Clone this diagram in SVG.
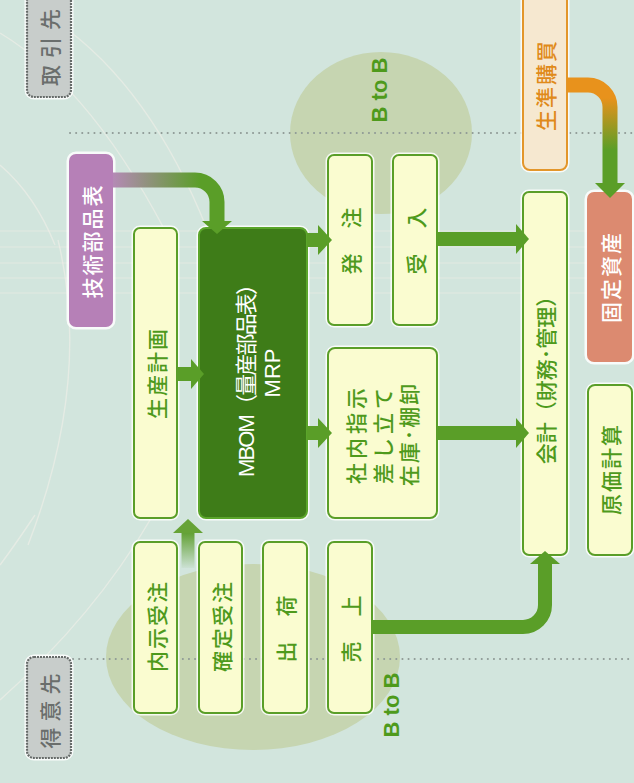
<svg xmlns="http://www.w3.org/2000/svg" width="634" height="783" viewBox="0 0 634 783">
<defs>
<style>
.bg{fill:#d2e5dd}
.deco{fill:none;stroke:#f4f1ea;stroke-width:1.4;opacity:.55}
.hline{fill:none;stroke:#f3ece6;stroke-width:1.2;opacity:.45}
.dot{fill:none;stroke:#8f9a96;stroke-width:2;stroke-dasharray:0.1 6;stroke-linecap:round}
.ell{fill:#c6d5b1}
.halo{fill:none;stroke:#ffffff;stroke-width:5;opacity:.85}
.box{fill:#fafcd0;stroke:#5a9e28;stroke-width:2}
.dark{fill:#3e7c18;stroke:#5ba52b;stroke-width:2}
.gray{fill:#c8cdcb;stroke:#666b69;stroke-width:2.2;stroke-dasharray:2 1}
.purple{fill:#b680b7;stroke:none}
.orange{fill:#f6e8d0;stroke:#e3962a;stroke-width:2}
.salmon{fill:#dc8a70;stroke:none}
.t{font-family:"Noto Sans CJK JP","Liberation Sans",sans-serif;font-size:21px;font-weight:500;text-anchor:middle;dominant-baseline:central;letter-spacing:2px}
.g{fill:#4e9a1c}
.w{fill:#ffffff}
.gr{fill:#6a6e6c;font-weight:500}
.or{fill:#e08a1a}
.lat{font-family:"Liberation Sans","Noto Sans CJK JP",sans-serif;letter-spacing:0;font-size:22px}
.btob{font-weight:700}
.sh{fill:none;stroke:#5a9e28;stroke-width:14}
.ah{fill:#5a9e28}
</style>
<linearGradient id="gPur" gradientUnits="userSpaceOnUse" x1="113" y1="0" x2="200" y2="0">
<stop offset="0" stop-color="#b48ab5"/><stop offset="1" stop-color="#5a9e28"/>
</linearGradient>
<linearGradient id="gOr" gradientUnits="userSpaceOnUse" x1="0" y1="98" x2="0" y2="150">
<stop offset="0" stop-color="#e8921c"/><stop offset="1" stop-color="#5a9e28"/>
</linearGradient>
<linearGradient id="gUp" gradientUnits="userSpaceOnUse" x1="0" y1="532" x2="0" y2="570">
<stop offset="0" stop-color="#5f9f30"/><stop offset="1" stop-color="#5f9f30" stop-opacity="0"/>
</linearGradient>
</defs>

<rect class="bg" x="0" y="0" width="634" height="783"/>
<g id="decoration">
<path class="deco" d="M0,33 Q95,90 175,250"/>
<path class="deco" d="M68,30 Q160,100 215,250"/>
<path class="deco" d="M0,165 Q35,195 55,245"/>
<path class="deco" d="M58,240 Q92,380 28,545"/>
<path class="deco" d="M150,520 Q95,615 0,700"/>
<path class="deco" d="M35,515 Q15,545 0,565"/>
<line class="hline" x1="0" y1="231" x2="634" y2="231"/>
<line class="hline" x1="0" y1="247" x2="634" y2="247"/>
<line class="hline" x1="0" y1="263" x2="634" y2="263"/>
<line class="hline" x1="0" y1="278" x2="634" y2="278"/>
<line class="hline" x1="0" y1="293" x2="634" y2="293"/>
<ellipse class="ell" cx="381" cy="133" rx="91" ry="81"/>
<ellipse class="ell" cx="253" cy="657" rx="147" ry="93"/>
<line class="dot" x1="70" y1="133" x2="634" y2="133"/>
<line class="dot" x1="73" y1="659" x2="634" y2="659"/>
<text class="t g lat btob" transform="translate(379,90) rotate(-90)">B to B</text>
<text class="t g lat btob" transform="translate(391,705) rotate(-90)">B to B</text>
</g>

<g id="torihiki">
<rect class="halo" x="27" y="-8" width="44" height="105" rx="7"/>
<rect class="gray" x="27" y="-8" width="44" height="105" rx="7"/>
<text class="t gr" transform="translate(49,44) rotate(-90)" style="letter-spacing:7px">取引先</text>
</g>
<g id="tokui">
<rect class="halo" x="27" y="657" width="44" height="101" rx="7"/>
<rect class="gray" x="27" y="657" width="44" height="101" rx="7"/>
<text class="t gr" transform="translate(49,708) rotate(-90)" style="letter-spacing:6px">得意先</text>
</g>
<g id="gijutsu">
<rect class="halo" x="69" y="154" width="44" height="173" rx="7"/>
<rect class="purple" x="69" y="154" width="44" height="173" rx="7"/>
<text class="t w" transform="translate(91,241) rotate(-90)">技術部品表</text>
</g>
<g id="seisan">
<rect class="halo" x="134" y="228" width="43" height="290" rx="6"/>
<rect class="box" x="134" y="228" width="43" height="290" rx="6"/>
<text class="t g" transform="translate(156,373) rotate(-90)">生産計画</text>
</g>
<g id="mbom">
<rect class="halo" x="199" y="228" width="108" height="290" rx="7"/>
<rect class="dark" x="199" y="228" width="108" height="290" rx="7"/>
<text class="t w lat" transform="translate(246,375) rotate(-90)" style="font-weight:400" textLength="204" lengthAdjust="spacing">MBOM（量産部品表）</text>
<text class="t w lat" transform="translate(272,373) rotate(-90)" style="font-weight:400">MRP</text>
</g>
<g id="hatchu">
<rect class="halo" x="328" y="155" width="44" height="170" rx="6"/>
<rect class="box" x="328" y="155" width="44" height="170" rx="6"/>
<text class="t g" transform="translate(350,240) rotate(-90)">発　注</text>
</g>
<g id="ukeire">
<rect class="halo" x="393" y="155" width="44" height="170" rx="6"/>
<rect class="box" x="393" y="155" width="44" height="170" rx="6"/>
<text class="t g" transform="translate(415,240) rotate(-90)">受　入</text>
</g>
<g id="shanai">
<rect class="halo" x="328" y="348" width="109" height="170" rx="7"/>
<rect class="box" x="328" y="348" width="109" height="170" rx="7"/>
<text class="t g" transform="translate(355,434) rotate(-90)" style="letter-spacing:4px">社内指示</text>
<text class="t g" transform="translate(382,434) rotate(-90)" style="letter-spacing:4px">差し立て</text>
<text class="t g" transform="translate(408,434) rotate(-90)" style="letter-spacing:2px">在庫･棚卸</text>
</g>
<g id="naiji">
<rect class="halo" x="134" y="542" width="43" height="171" rx="6"/>
<rect class="box" x="134" y="542" width="43" height="171" rx="6"/>
<text class="t g" transform="translate(156,626) rotate(-90)">内示受注</text>
</g>
<g id="kakutei">
<rect class="halo" x="199" y="542" width="43" height="171" rx="6"/>
<rect class="box" x="199" y="542" width="43" height="171" rx="6"/>
<text class="t g" transform="translate(221,626) rotate(-90)">確定受注</text>
</g>
<g id="shukka">
<rect class="halo" x="263" y="542" width="44" height="171" rx="6"/>
<rect class="box" x="263" y="542" width="44" height="171" rx="6"/>
<text class="t g" transform="translate(285,628) rotate(-90)">出　荷</text>
</g>
<g id="uriage">
<rect class="halo" x="328" y="542" width="44" height="171" rx="6"/>
<rect class="box" x="328" y="542" width="44" height="171" rx="6"/>
<text class="t g" transform="translate(350,628) rotate(-90)">売　上</text>
</g>
<g id="kaikei">
<rect class="halo" x="523" y="192" width="44" height="363" rx="6"/>
<rect class="box" x="523" y="192" width="44" height="363" rx="6"/>
<text class="t g" transform="translate(545,375) rotate(-90)" style="letter-spacing:0">会計（財務･管理）</text>
</g>
<g id="seijun">
<rect class="halo" x="523" y="-8" width="44" height="178" rx="7"/>
<rect class="orange" x="523" y="-8" width="44" height="178" rx="7"/>
<text class="t or" transform="translate(545,85) rotate(-90)">生準購買</text>
</g>
<g id="kotei">
<rect class="halo" x="587" y="192" width="45" height="170" rx="7"/>
<rect class="salmon" x="587" y="192" width="45" height="170" rx="7"/>
<text class="t w" transform="translate(610,277) rotate(-90)">固定資産</text>
</g>
<g id="genka">
<rect class="halo" x="588" y="385" width="44" height="170" rx="7"/>
<rect class="box" x="588" y="385" width="44" height="170" rx="7"/>
<text class="t g" transform="translate(610,469) rotate(-90)">原価計算</text>
</g>

<g id="connectors">
<path d="M113,180 H195 A22,22 0 0 1 217,202 V223" fill="none" stroke="url(#gPur)" stroke-width="15"/>
<polygon class="ah" points="202,221 232,221 217,234"/>
<path d="M567,85 H588 A22,22 0 0 1 610,107 V185" fill="none" stroke="url(#gOr)" stroke-width="15"/>
<polygon class="ah" points="595,183 625,183 610,198"/>
<path d="M188,568 V531" fill="none" stroke="url(#gUp)" stroke-width="13"/>
<polygon fill="#66a336" points="173,533 203,533 188,519"/>
<path class="sh" d="M177,374 H193"/>
<polygon class="ah" points="191,359 191,389 204,374"/>
<path class="sh" d="M307,240 H320"/>
<polygon class="ah" points="318,225 318,255 332,240"/>
<path class="sh" d="M307,433 H320"/>
<polygon class="ah" points="318,418 318,448 332,433"/>
<path class="sh" d="M437,239 H519"/>
<polygon class="ah" points="516,224 516,254 529,239"/>
<path class="sh" d="M437,433 H519"/>
<polygon class="ah" points="516,418 516,448 529,433"/>
<path class="sh" d="M372,627 H523 A22,22 0 0 0 545,605 V562"/>
<polygon class="ah" points="530,564 560,564 545,551"/>
</g>
</svg>
